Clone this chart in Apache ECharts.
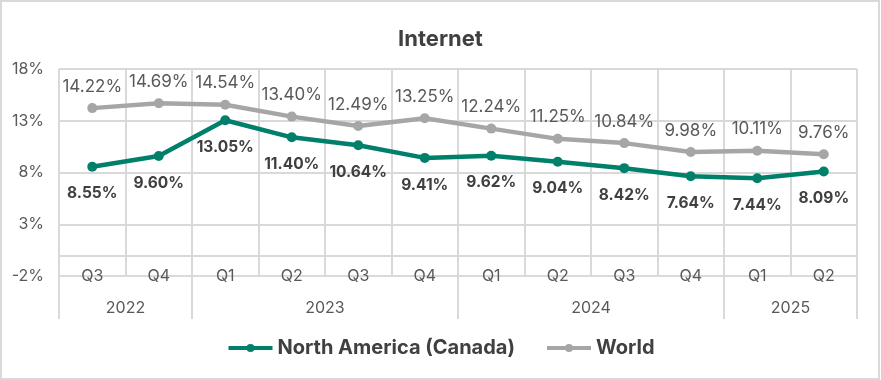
<!DOCTYPE html>
<html><head><meta charset="utf-8">
<script src="https://cdn.jsdelivr.net/npm/echarts@6/dist/echarts.min.js"></script>
<style>html,body{margin:0;padding:0;background:#fff}#c{width:881px;height:380px}</style>
</head><body><div id="c"></div>
<script>
const quarters = ['Q3','Q4','Q1','Q2','Q3','Q4','Q1','Q2','Q3','Q4','Q1','Q2'];
const years = ['2022','2023','2024','2025'];
const yearLabelPos = [1, 4, 8, 11];      // centre of each year group (in quarter units)
const yearBounds = [0, 2, 6, 10, 12];    // group boundaries (in quarter units)
const northAmerica = [8.55, 9.60, 13.05, 11.40, 10.64, 9.41, 9.62, 9.04, 8.42, 7.64, 7.44, 8.09];
const world = [14.22, 14.69, 14.54, 13.40, 12.49, 13.25, 12.24, 11.25, 10.84, 9.98, 10.11, 9.76];
const yTicks = [-2, 3, 8, 13, 18];

const GREEN = '#00806A', GRAY = '#A6A6A6', GRID = '#D9D9D9', TXT = '#595959', DARK = '#404040';
const FONT = 'Inter';

const chart = echarts.init(document.getElementById('c'), null, {renderer: 'canvas'});
chart.setOption({
  animation: false,
  textStyle: {fontFamily: FONT},
  title: {text: 'Internet', left: 'center', top: 23, itemGap: 0,
    textStyle: {fontFamily: FONT, fontWeight: 'bold', fontSize: 22, color: DARK}},
  graphic: [{type: 'rect', shape: {x: 1, y: 1, width: 878, height: 378},
    style: {fill: 'none', stroke: GRID, lineWidth: 2}, silent: true}],
  legend: {bottom: 17, left: 'center', itemWidth: 44, itemHeight: 10, itemGap: 30,
    lineStyle: {width: 4},
    textStyle: {fontFamily: FONT, fontWeight: 'bold', fontSize: 20, color: DARK},
    data: ['North America (Canada)', 'World']},
  grid: {left: 59, right: 24, top: 69, bottom: 104, containLabel: false},
  xAxis: [{
    type: 'category', data: quarters, boundaryGap: true, position: 'bottom',
    axisLine: {onZero: false, show: true, lineStyle: {color: GRID, width: 2}},
    axisTick: {show: false},
    splitLine: {show: true, lineStyle: {color: GRID, width: 2}},
    axisLabel: {margin: -8, fontSize: 16, color: TXT, fontFamily: FONT, interval: 0}
  }, {
    type: 'value', min: 0, max: 12, position: 'bottom',
    axisLine: {show: false, onZero: false},
    splitLine: {show: false},
    axisTick: {show: true, customValues: yearBounds, length: 43, inside: false,
      lineStyle: {color: GRID, width: 2}},
    axisLabel: {customValues: yearLabelPos, margin: 24, fontSize: 16, color: TXT, fontFamily: FONT,
      formatter: v => years[yearLabelPos.indexOf(v)] || ''}
  }],
  yAxis: {
    type: 'value', min: -2, max: 18,
    axisLine: {show: false}, axisTick: {show: false, customValues: yTicks},
    splitLine: {show: true, lineStyle: {color: GRID, width: 2}},
    axisLabel: {customValues: yTicks, margin: 15, fontSize: 16, color: TXT, fontFamily: FONT,
      formatter: v => v + '%'}
  },
  series: [{
    name: 'North America (Canada)', type: 'line', data: northAmerica, xAxisIndex: 0,
    symbol: 'circle', symbolSize: 10, lineStyle: {color: GREEN, width: 4.5},
    itemStyle: {color: GREEN}, z: 3,
    label: {show: true, position: 'bottom', distance: 14, fontSize: 15.5, fontWeight: 'bold',
      color: DARK, fontFamily: FONT, formatter: p => p.value.toFixed(2) + '%'},
    markLine: {silent: true, symbol: 'none', label: {show: false},
      lineStyle: {color: GRID, width: 2, type: 'solid'}, data: [{yAxis: 0}], z: 1}
  }, {
    name: 'World', type: 'line', data: world, xAxisIndex: 0,
    symbol: 'circle', symbolSize: 10, lineStyle: {color: GRAY, width: 4.5},
    itemStyle: {color: GRAY}, z: 2,
    label: {show: true, position: 'top', distance: 8, fontSize: 17,
      color: TXT, fontFamily: FONT, formatter: p => p.value.toFixed(2) + '%'}
  }]
});
</script></body></html>
